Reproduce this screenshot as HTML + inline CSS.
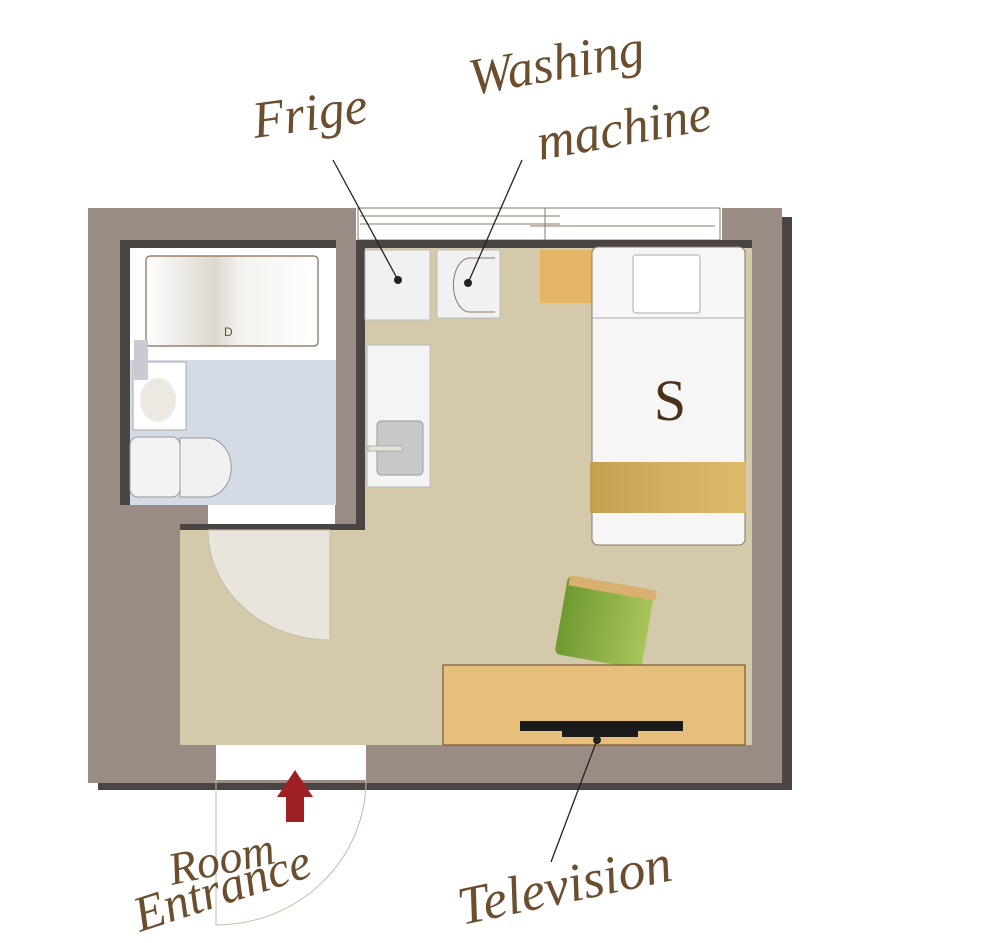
<!DOCTYPE html>
<html><head><meta charset="utf-8"><style>html,body{margin:0;padding:0;background:#fff}svg{display:block}</style></head>
<body>
<svg width="1000" height="943" viewBox="0 0 1000 943" xmlns="http://www.w3.org/2000/svg">
<defs>
<linearGradient id="tub" x1="0" x2="1"><stop offset="0" stop-color="#fff"/><stop offset="0.4" stop-color="#ddd8cf"/><stop offset="0.55" stop-color="#f4f2ee"/><stop offset="1" stop-color="#fff"/></linearGradient>
<linearGradient id="gold" x1="0" x2="1"><stop offset="0" stop-color="#c2a14e"/><stop offset="0.5" stop-color="#d1b060"/><stop offset="1" stop-color="#dcbc6c"/></linearGradient>
<linearGradient id="green" x1="0" x2="1"><stop offset="0" stop-color="#6f9a30"/><stop offset="1" stop-color="#a9c55a"/></linearGradient>
</defs>
<rect x="98" y="217" width="694" height="573" fill="#4a4443"/>
<rect x="88" y="208" width="694" height="575" fill="#9a8b85"/>
<rect x="356" y="208" width="366" height="34" fill="#fff"/>
<g stroke="#8a7866" stroke-width="1" fill="none">
<rect x="358" y="208" width="362" height="32"/>
<line x1="360" y1="216" x2="560" y2="216"/><line x1="360" y1="224" x2="560" y2="224"/>
<line x1="530" y1="226" x2="715" y2="226"/><line x1="545" y1="208" x2="545" y2="240"/>
</g>
<rect x="365" y="240" width="387" height="505" fill="#d4c9ab"/>
<rect x="180" y="525" width="572" height="220" fill="#d4c9ab"/>
<rect x="356" y="240" width="396" height="8" fill="#4a4443"/>
<rect x="356" y="240" width="9" height="290" fill="#4a4443"/>
<rect x="180" y="524" width="185" height="6" fill="#4a4443"/>
<!-- bathroom -->
<rect x="120" y="240" width="216" height="265" fill="#4a4443"/>
<rect x="130" y="248" width="206" height="257" fill="#d3dce6"/>
<rect x="130" y="248" width="206" height="112" fill="#fff"/>
<rect x="146" y="256" width="172" height="90" rx="4" fill="url(#tub)" stroke="#8a6a4a" stroke-width="1.2"/>
<text x="224" y="336" font-family="Liberation Sans" font-size="12" fill="#6b4e2e">D</text>
<rect x="133" y="362" width="53" height="68" fill="#fff" stroke="#aaa" stroke-width="1"/>
<rect x="134" y="340" width="14" height="40" fill="#c8ccd2"/>
<ellipse cx="158" cy="400" rx="18" ry="22" fill="#ece9e2"/>
<rect x="130" y="437" width="50" height="60" rx="8" fill="#f3f3f3" stroke="#999" stroke-width="1"/>
<path d="M180 438 L210 438 A26 30 0 0 1 210 497 L180 497 Z" fill="#f1f1f1" stroke="#999" stroke-width="1"/>
<rect x="208" y="505" width="127" height="19" fill="#fff"/>
<path d="M208 530 A122 110 0 0 0 330 640 L330 530 Z" fill="#e9e5dc" stroke="#c9bca6" stroke-width="1"/>
<rect x="365" y="250" width="65" height="70" fill="#f1f1f1" stroke="#bbb"/>
<rect x="437" y="250" width="63" height="68" fill="#f1f1f1" stroke="#bbb"/>
<path d="M495 258 L470 258 A16 26 0 0 0 470 312 L495 312" fill="none" stroke="#8a7866"/>
<rect x="367" y="345" width="63" height="142" fill="#f4f4f4" stroke="#bbb"/>
<rect x="377" y="421" width="46" height="54" rx="4" fill="#c8c8c8" stroke="#999"/>
<rect x="368" y="446" width="34" height="5" fill="#e8e4dc" stroke="#999" stroke-width=".7"/>
<rect x="540" y="250" width="52" height="53" fill="#e3b565"/>
<rect x="592" y="247" width="153" height="298" rx="6" fill="#f6f6f6" stroke="#8a7866"/>
<rect x="633" y="255" width="67" height="58" rx="3" fill="#fff" stroke="#aaa"/>
<line x1="592" y1="318" x2="745" y2="318" stroke="#aaa"/>
<rect x="590" y="462" width="156" height="51" fill="url(#gold)"/>
<text x="670" y="420" text-anchor="middle" font-family="Liberation Serif" font-size="58" fill="#4a3218">S</text>
<g transform="rotate(10 604 620)">
<rect x="561" y="582" width="88" height="80" rx="6" fill="url(#green)"/>
<rect x="563" y="582" width="88" height="10" fill="#d9b071"/>
</g>
<rect x="443" y="665" width="302" height="80" fill="#e6c07a" stroke="#7a5a36" stroke-width="1.2"/>
<rect x="520" y="721" width="163" height="10" fill="#1a1a1a"/>
<rect x="562" y="729" width="76" height="8" fill="#1a1a1a"/>
<circle cx="597" cy="740" r="4" fill="#222"/>
<rect x="216" y="745" width="150" height="35" fill="#fff"/>
<path d="M216 780 L216 925 A150 145 0 0 0 366 780" fill="none" stroke="#c9bca6" stroke-width="1"/>
<path d="M286 822 L286 797 L277 797 L295 770 L313 797 L304 797 L304 822 Z" fill="#9e1f24"/>
<g stroke="#222" stroke-width="1.3">
<line x1="333" y1="160" x2="398" y2="280"/>
<line x1="522" y1="160" x2="468" y2="283"/>
<line x1="551" y1="862" x2="597" y2="740"/>
</g>
<circle cx="398" cy="280" r="4" fill="#222"/><circle cx="468" cy="283" r="4" fill="#222"/>
<g font-family="Liberation Serif" font-style="italic" fill="#6b4e2e">
<text x="255" y="138" font-size="52" transform="rotate(-8 255 138)">Frige</text>
<text x="472" y="95" font-size="52" transform="rotate(-10 472 95)">Washing</text>
<text x="540" y="160" font-size="52" transform="rotate(-10 540 160)">machine</text>
<text x="172" y="885" font-size="46" transform="rotate(-12 172 885)">Room</text>
<text x="140" y="932" font-size="50" transform="rotate(-18 140 932)">Entrance</text>
<text x="462" y="925" font-size="54" transform="rotate(-12 462 925)">Television</text>
</g>
</svg>
</body></html>
